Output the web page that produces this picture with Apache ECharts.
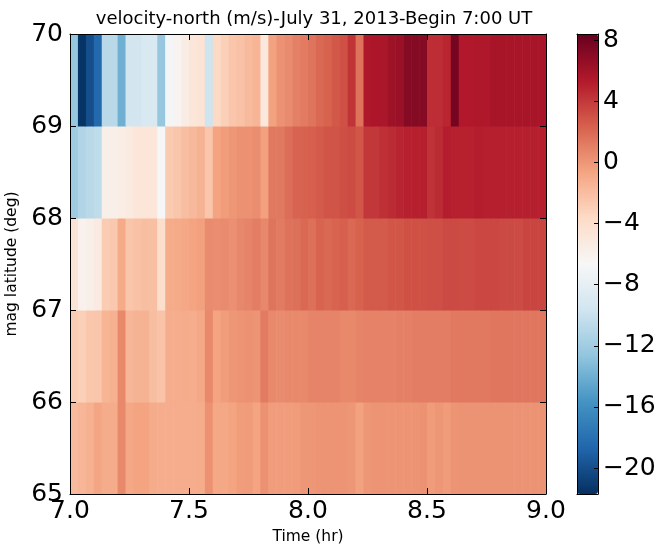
<!DOCTYPE html>
<html>
<head>
<meta charset="utf-8">
<script src="https://cdn.jsdelivr.net/npm/echarts@6/dist/echarts.min.js"></script>
<style>
html,body{margin:0;padding:0;background:#fff;}
#chart{width:662px;height:547px;}
</style>
</head>
<body>
<div id="chart"></div>
<script>
// ---- data ----
const timeStart = 7.0;          // hr
const binHours = 2 / 60;        // 2-minute bins
const latStarts = [65, 66, 67, 68, 69];
const latStep = 1;
const xTicks = [7.0, 7.5, 8.0, 8.5, 9.0];
const yTicks = [65, 66, 67, 68, 69, 70];
const cbTicks = [-20, -16, -12, -8, -4, 0, 4, 8];
const vMin = -21.7, vMax = 8.4;

// velocity-north (m/s), one array per latitude bin, 60 two-minute columns
const row65 = [-1.8,-1.6,-1.3,-0.7,-1.0,-1.0,0.6,-0.8,-0.6,-0.6,-1.0,-1.1,-1.1,-1.1,-1.1,-1.1,-1.0,0.2,-0.8,-0.8,
  -0.6,-0.3,-0.2,-0.6,0.2,-0.3,-0.3,-0.3,-0.2,0.0,0.0,0.1,0.1,0.1,0.1,0.0,-0.5,0.0,0.1,0.1,
  0.1,0.1,0.1,0.1,0.2,-0.2,0.0,-0.2,0.1,0.15,0.15,0.15,0.15,0.15,0.15,0.15,0.15,0.15,0.15,0.15];
const row66 = [-2.8,-3.0,-2.5,-2.4,-1.5,-1.3,0.6,-1.6,-1.4,-1.4,-2.0,-2.3,-1.1,-1.1,-1.0,-1.1,-0.8,0.6,-0.6,-0.3,
  0.0,0.1,0.2,0.1,1.2,0.6,0.5,0.6,0.6,0.6,0.8,0.8,0.8,0.8,0.6,0.6,0.8,0.9,0.9,0.9,
  0.9,1.0,1.0,1.1,1.1,1.1,1.1,1.1,1.3,1.3,1.3,1.3,1.3,1.4,1.4,1.4,1.4,1.4,1.4,1.4];
const row67 = [-4.6,-6.0,-5.8,-5.3,-2.8,-2.6,-0.9,-2.4,-2.2,-2.0,-2.1,-4.0,-1.0,-0.9,-0.8,-0.6,-0.4,0.5,0.4,0.5,
  0.3,0.7,0.8,1.1,0.7,1.5,1.2,1.6,1.7,2.0,1.7,2.2,2.0,2.2,2.4,2.0,2.3,2.6,2.6,2.6,
  2.8,2.8,3.0,3.0,3.0,3.1,3.1,3.3,3.3,3.2,3.2,3.4,3.4,3.4,3.3,3.3,3.2,3.5,3.5,3.5];
const row68 = [-12.0,-11.2,-10.8,-10.5,-5.8,-5.8,-5.6,-5.2,-4.8,-4.8,-4.8,-6.8,-2.7,-2.4,-2.0,-1.7,-1.4,-2.4,-0.6,-0.3,
  0.0,0.2,0.2,0.4,-0.4,1.3,1.3,1.8,2.2,2.3,2.4,2.6,2.9,2.9,3.1,3.2,2.8,4.1,4.1,4.4,
  4.6,4.9,5.0,5.1,5.1,4.3,4.6,5.2,5.0,5.0,5.0,5.2,5.1,5.1,5.1,5.1,5.1,5.1,5.1,5.1];
const row69 = [-12.5,-21.5,-20.0,-18.5,-10.8,-10.8,-14.0,-9.5,-9.5,-9.0,-9.0,-12.5,-7.0,-6.2,-5.5,-4.8,-4.5,-9.8,-3.6,-3.0,
  -2.4,-2.2,-1.8,-1.5,-5.0,-0.5,0.2,0.5,1.0,1.2,1.5,2.0,2.3,2.7,3.0,4.2,1.6,5.5,5.6,5.7,
  6.2,6.4,7.2,7.2,7.2,4.5,4.5,4.8,7.8,5.4,5.4,5.5,5.5,5.8,5.8,5.8,5.8,5.8,5.8,5.8];
const rows = [row65, row66, row67, row68, row69];

const rdbu_r = ['#053061','#2166ac','#4393c3','#92c5de','#d1e5f0','#f7f7f7',
                '#fddbc7','#f4a582','#d6604d','#b2182b','#67001f'];

// ---- build cells ----
const cells = [];
rows.forEach((vals, r) => {
  const y0 = latStarts[r], y1 = y0 + latStep;
  vals.forEach((v, i) => {
    const x0 = timeStart + i * binHours, x1 = x0 + binHours;
    cells.push([x0, x1, y0, y1, v]);
  });
});

const FONT = 'DejaVu Sans';
const minus = v => (v < 0 ? '\u2212' + Math.abs(v) : String(v));

const chart = echarts.init(document.getElementById('chart'), null, {renderer: 'canvas'});
chart.setOption({
  backgroundColor: '#ffffff',
  animation: false,
  title: {
    text: 'velocity-north (m/s)-July 31, 2013-Begin 7:00 UT',
    left: 309, top: 5, textAlign: 'center',
    textStyle: {fontFamily: FONT, fontSize: 18, fontWeight: 'normal', color: '#000'}
  },
  grid: [
    {left: 70, top: 34, width: 476, height: 460, show: false, containLabel: false, outerBoundsMode: 'none'},
    {left: 577, top: 34, width: 21, height: 460, show: false, containLabel: false, outerBoundsMode: 'none'}
  ],
  xAxis: [
    {gridIndex: 0, type: 'value', min: 7, max: 9, interval: 0.5, position: 'bottom',
      name: 'Time (hr)', nameLocation: 'middle', nameGap: 31,
      nameTextStyle: {fontFamily: FONT, fontSize: 15.5, color: '#000'},
      axisLine: {show: true, onZero: false, lineStyle: {color: '#000', width: 1}},
      axisTick: {show: true, inside: true, length: 6, lineStyle: {color: '#000'}},
      axisLabel: {fontFamily: FONT, fontSize: 25, color: '#000', margin: 5,
        formatter: v => v.toFixed(1)},
      splitLine: {show: false}, z: 5},
    {gridIndex: 0, type: 'value', min: 7, max: 9, interval: 0.5, position: 'top',
      axisLine: {show: true, onZero: false, lineStyle: {color: '#000', width: 1}},
      axisTick: {show: true, inside: true, length: 6, lineStyle: {color: '#000'}},
      axisLabel: {show: false}, splitLine: {show: false}, z: 5},
    {gridIndex: 1, type: 'value', min: 0, max: 1, position: 'top',
      axisLine: {show: true, onZero: false, lineStyle: {color: '#000', width: 1}},
      axisTick: {show: false}, axisLabel: {show: false}, splitLine: {show: false}, z: 10},
    {gridIndex: 1, type: 'value', min: 0, max: 1, position: 'bottom',
      axisLine: {show: true, onZero: false, lineStyle: {color: '#000', width: 1}},
      axisTick: {show: false}, axisLabel: {show: false}, splitLine: {show: false}, z: 10}
  ],
  yAxis: [
    {gridIndex: 0, type: 'value', min: 65, max: 70, interval: 1, position: 'left',
      name: 'mag latitude (deg)', nameLocation: 'middle', nameGap: 46, nameRotate: 90,
      nameTextStyle: {fontFamily: FONT, fontSize: 15.5, color: '#000'},
      axisLine: {show: true, onZero: false, lineStyle: {color: '#000', width: 1}},
      axisTick: {show: true, inside: true, length: 6, lineStyle: {color: '#000'}},
      axisLabel: {fontFamily: FONT, fontSize: 25, color: '#000', margin: 7},
      splitLine: {show: false}, z: 5},
    {gridIndex: 0, type: 'value', min: 65, max: 70, interval: 1, position: 'right',
      axisLine: {show: true, onZero: false, lineStyle: {color: '#000', width: 1}},
      axisTick: {show: true, inside: true, length: 6, lineStyle: {color: '#000'}},
      axisLabel: {show: false}, splitLine: {show: false}, z: 5},
    {gridIndex: 1, type: 'value', min: vMin, max: vMax, position: 'right',
      axisLine: {show: true, onZero: false, lineStyle: {color: '#000', width: 1}},
      axisTick: {show: true, inside: true, length: 4, customValues: cbTicks, lineStyle: {color: '#000'}},
      axisLabel: {fontFamily: FONT, fontSize: 25, color: '#000', margin: 5, customValues: cbTicks,
        formatter: v => minus(v)},
      splitLine: {show: false}, z: 10},
    {gridIndex: 1, type: 'value', min: vMin, max: vMax, position: 'left',
      axisLine: {show: true, onZero: false, lineStyle: {color: '#000', width: 1}},
      axisTick: {show: false}, axisLabel: {show: false}, splitLine: {show: false}, z: 10}
  ],
  visualMap: {
    type: 'continuous', min: vMin, max: vMax, dimension: 4, seriesIndex: 0,
    left: 577, top: 34, itemWidth: 21, itemHeight: 460, padding: 0,
    calculable: false, text: null, showLabel: false, hoverLink: false,
    inRange: {color: rdbu_r}, z: 2
  },
  series: [{
    type: 'custom',
    xAxisIndex: 0, yAxisIndex: 0,
    clip: true,
    encode: {x: [0, 1], y: [2, 3]},
    data: cells,
    renderItem: function (params, api) {
      const p0 = api.coord([api.value(0), api.value(3)]);
      const p1 = api.coord([api.value(1), api.value(2)]);
      return {
        type: 'rect',
        shape: {x: p0[0], y: p0[1], width: p1[0] - p0[0] + 0.6, height: p1[1] - p0[1] + 0.6},
        style: {fill: api.visual('color')}
      };
    }
  }]
});
</script>
</body>
</html>
